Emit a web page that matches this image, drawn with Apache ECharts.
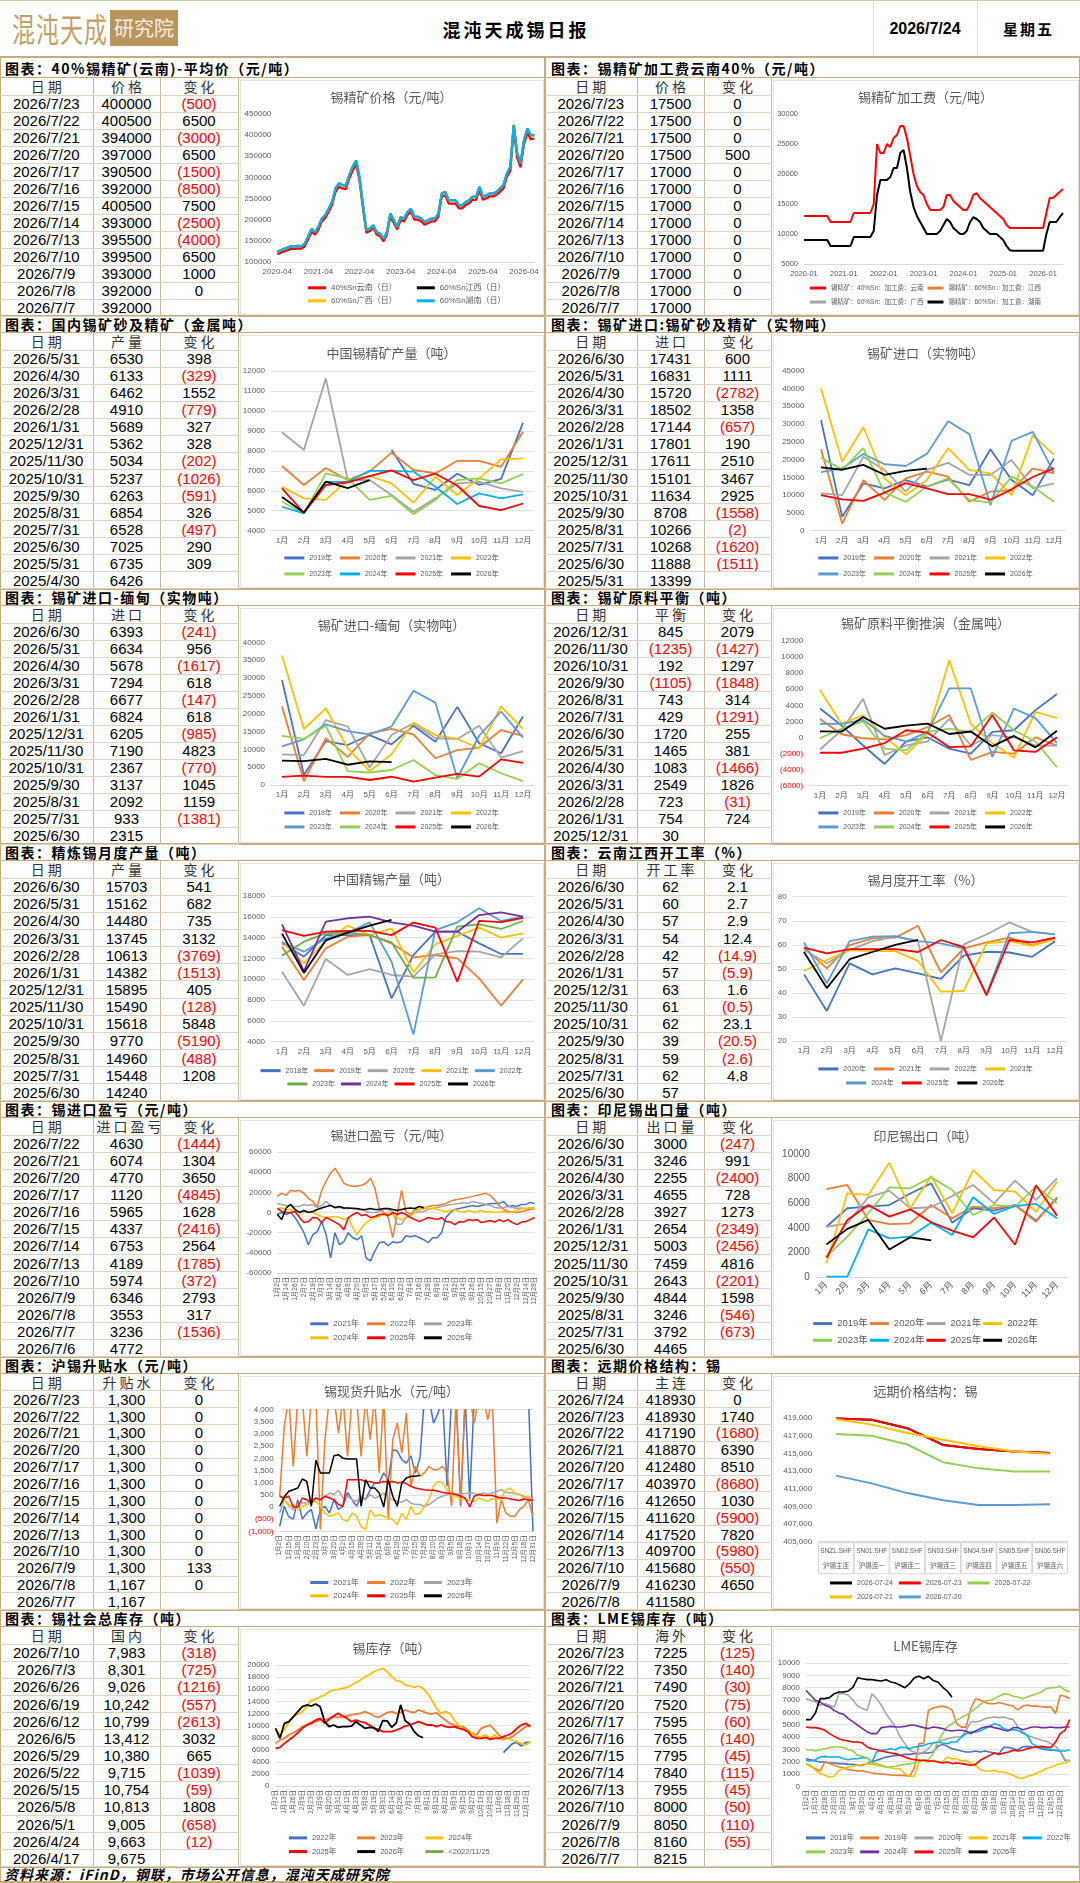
<!DOCTYPE html>
<html lang="zh-CN">
<head>
<meta charset="utf-8">
<title>混沌天成锡日报</title>
<script src="https://cdn.jsdelivr.net/npm/echarts@6.0.0/dist/echarts.min.js"></script>
<style>
html, body { margin: 0; padding: 0; background: #fff; }
body { font-family: "Liberation Sans", "Noto Sans CJK SC", sans-serif; }
#page { position: relative; width: 1080px; height: 1883px; overflow: hidden; background: #fff; }
table.t { position: absolute; border-collapse: collapse; table-layout: fixed; }
table.t td { border-right: 1px solid #cdb995; border-bottom: 1px solid #ddd3c1; text-align: center; padding: 0;
  font-size: 15px; color: #000; white-space: nowrap; overflow: hidden; line-height: 1; }
table.t tr.h td { font-family: "Noto Sans CJK SC", sans-serif; font-size: 14px; letter-spacing: 3px; text-indent: 3px; color: #333; }
table.t td.neg { color: #ff0000; }
</style>
</head>
<body>
<div id="page"></div>
<script>
// ---------- tables ----------
var d1 = ['2026/7/23','2026/7/22','2026/7/21','2026/7/20','2026/7/17','2026/7/16','2026/7/15','2026/7/14','2026/7/13','2026/7/10','2026/7/9','2026/7/8','2026/7/7'];
var t1Price = [400000,400500,394000,397000,390500,392000,400500,393000,395500,399500,393000,392000,392000];
var t1Chg = [-500,6500,-3000,6500,-1500,-8500,7500,-2500,-4000,6500,1000,0,null];
var t1FeePrice = [17500,17500,17500,17500,17000,17000,17000,17000,17000,17000,17000,17000,17000];
var t1FeeChg = [0,0,0,500,0,0,0,0,0,0,0,0,null];

var d2 = ['2026/5/31','2026/4/30','2026/3/31','2026/2/28','2026/1/31','2025/12/31','2025/11/30','2025/10/31','2025/9/30','2025/8/31','2025/7/31','2025/6/30','2025/5/31','2025/4/30'];
var t2Prod = [6530,6133,6462,4910,5689,5362,5034,5237,6263,6854,6528,7025,6735,6426];
var t2ProdChg = [398,-329,1552,-779,327,328,-202,-1026,-591,326,-497,290,309,null];
var d2r = ['2026/6/30','2026/5/31','2026/4/30','2026/3/31','2026/2/28','2026/1/31','2025/12/31','2025/11/30','2025/10/31','2025/9/30','2025/8/31','2025/7/31','2025/6/30','2025/5/31'];
var t2Imp = [17431,16831,15720,18502,17144,17801,17611,15101,11634,8708,10266,10268,11888,13399];
var t2ImpChg = [600,1111,-2782,1358,-657,190,2510,3467,2925,-1558,-2,-1620,-1511,null];

var d3 = ['2026/6/30','2026/5/31','2026/4/30','2026/3/31','2026/2/28','2026/1/31','2025/12/31','2025/11/30','2025/10/31','2025/9/30','2025/8/31','2025/7/31','2025/6/30'];
var t3Mm = [6393,6634,5678,7294,6677,6824,6205,7190,2367,3137,2092,933,2315];
var t3MmChg = [-241,956,-1617,618,-147,618,-985,4823,-770,1045,1159,-1381,null];
var d3r = ['2026/12/31','2026/11/30','2026/10/31','2026/9/30','2026/8/31','2026/7/31','2026/6/30','2026/5/31','2026/4/30','2026/3/31','2026/2/28','2026/1/31','2025/12/31'];
var t3Bal = [845,-1235,192,-1105,743,429,1720,1465,1083,2549,723,754,30];
var t3BalChg = [2079,-1427,1297,-1848,314,-1291,255,381,-1466,1826,-31,724,null];

var t4Ref = [15703,15162,14480,13745,10613,14382,15895,15490,15618,9770,14960,15448,14240];
var t4RefChg = [541,682,735,3132,-3769,-1513,405,-128,5848,-5190,-488,1208,null];
var t4Op = [62,60,57,54,42,57,63,61,62,39,59,62,57];
var t4OpChg = [2.1,2.7,2.9,12.4,-14.9,-5.9,1.6,-0.5,23.1,-20.5,-2.6,4.8,null];

var d5 = ['2026/7/22','2026/7/21','2026/7/20','2026/7/17','2026/7/16','2026/7/15','2026/7/14','2026/7/13','2026/7/10','2026/7/9','2026/7/8','2026/7/7','2026/7/6'];
var t5Prof = [4630,6074,4770,1120,5965,4337,6753,4189,5974,6346,3553,3236,4772];
var t5ProfChg = [-1444,1304,3650,-4845,1628,-2416,2564,-1785,-372,2793,317,-1536,null];
var t5Id = [3000,3246,2255,4655,3927,2654,5003,7459,2643,4844,3246,3792,4465];
var t5IdChg = [-247,991,-2400,728,1273,-2349,-2456,4816,-2201,1598,-546,-673,null];

var t6Prem = [1300,1300,1300,1300,1300,1300,1300,1300,1300,1300,1300,1167,1167];
var t6PremChg = [0,0,0,0,0,0,0,0,0,0,133,0,null];
var d6r = ['2026/7/24','2026/7/23','2026/7/22','2026/7/21','2026/7/20','2026/7/17','2026/7/16','2026/7/15','2026/7/14','2026/7/13','2026/7/10','2026/7/9','2026/7/8'];
var t6Main = [418930,418930,417190,418870,412480,403970,412650,411620,417520,409700,415680,416230,411580];
var t6MainChg = [0,1740,-1680,6390,8510,-8680,1030,-5900,7820,-5980,-550,4650,null];

var d7 = ['2026/7/10','2026/7/3','2026/6/26','2026/6/19','2026/6/12','2026/6/5','2026/5/29','2026/5/22','2026/5/15','2026/5/8','2026/5/1','2026/4/24','2026/4/17'];
var t7Inv = [7983,8301,9026,10242,10799,13412,10380,9715,10754,10813,9005,9663,9675];
var t7InvChg = [-318,-725,-1216,-557,-2613,3032,665,-1039,-59,1808,-658,-12,null];
var t7Lme = [7225,7350,7490,7520,7595,7655,7795,7840,7955,8000,8050,8160,8215];
var t7LmeChg = [-125,-140,-30,-75,-60,-140,-45,-115,-45,-50,-110,-55,null];

// ---------- chart data ----------
var monthsCn = ['1月','2月','3月','4月','5月','6月','7月','8月','9月','10月','11月','12月'];

var ore60 = [124000,128000,131000,134000,137000,137000,138000,137000,143000,
  160000,178000,171000,183000,203000,211000,226000,242000,274000,286000,282000,280000,
  305000,325000,340000,300000,234000,175000,179000,187000,171000,167000,155000,171000,
  214000,199000,183000,206000,203000,218000,226000,207000,207000,203000,195000,199000,
  203000,203000,214000,262000,266000,246000,246000,246000,234000,234000,242000,246000,
  254000,254000,278000,254000,258000,262000,262000,266000,274000,282000,309000,325000,
  424000,357000,333000,388000,416000,400000,400000];
var ore40 = [118000,122000,125000,128000,131000,131000,132000,131000,137000,
  153000,171000,165000,176000,196000,204000,219000,235000,266000,278000,274000,272000,
  297000,316000,331000,292000,227000,169000,173000,181000,165000,161000,149000,165000,
  207000,192000,177000,199000,196000,211000,219000,200000,200000,196000,188000,192000,
  196000,196000,207000,254000,258000,238000,238000,238000,227000,227000,235000,239000,
  247000,247000,270000,247000,251000,255000,255000,259000,266000,274000,301000,316000,
  414000,347000,324000,378000,405000,390000,392000];

var fee40 = [13000,13000,13000,13000,13000,13000,13000,13000,12000,12000,12000,12000,12000,12000,12000,
  13500,13500,13500,13500,13500,13500,
  15000,25000,23500,23500,25000,24500,26000,26500,28000,28000,
  26000,23000,20000,18000,17000,16500,15000,14000,14000,14000,
  14000,14500,16500,16500,15500,15000,14500,14000,14000,15000,
  16500,16800,16000,15500,15000,14500,14000,13500,13000,12500,
  11500,11000,11000,11000,11000,11000,11000,11000,11000,11000,11000,11000,
  13500,16000,16000,16500,17000,17500];
var fee60 = [9000,9000,9000,9000,9000,9000,9000,9000,8000,8000,8000,8000,8000,8000,8000,
  9500,9500,9500,9500,9500,9500,
  10500,16500,19000,19000,19000,19500,21000,21000,23500,24000,
  21000,17000,14500,13000,12000,11000,10000,10000,10000,10000,
  10500,11500,12500,12000,11000,10500,10000,10000,10500,12000,
  12800,12500,12000,11000,10500,10000,10000,10000,9500,9000,
  8000,7300,7200,7200,7200,7200,7200,7200,7200,7200,7200,7200,
  10000,12000,12000,12000,12800,13500];

var dom2019 = [null,null,null,null,null,8050,6350,6050,6850,6300,6600,9400];
var dom2020 = [7240,6290,7140,6540,6960,7910,7040,6870,7500,7500,7200,8960];
var dom2021 = [8930,8040,11630,6540,6540,5790,4950,5620,6370,6450,6120,5950];
var dom2022 = [6200,5620,5540,6540,6740,6370,5400,6700,5790,6620,7570,7620];
var dom2023 = [5450,4870,6870,6620,5540,5740,4830,5540,6540,6620,6370,6840];
var dom2024 = [5200,4870,6450,6450,7000,7000,6960,6200,5340,5870,5620,5820];
var dom2025 = [6120,4900,6290,6426,6735,7025,6528,6854,6263,5237,5034,5362];
var dom2026 = [5689,4910,6462,6133,6530];

var imp2019 = [31100,3900,13300,11900,14250,12400,14400,12800,22900,14250,10000,20300];
var imp2020 = [22900,2000,14250,8600,14700,16600,15200,8150,11000,11400,17500,16100];
var imp2021 = [10500,10000,20800,17100,11000,17100,19100,15700,15700,19900,11900,13300];
var imp2022 = [40000,19400,29100,14700,10000,14250,23200,17100,16100,10000,26900,21300];
var imp2023 = [16500,17500,21600,18700,18200,21600,30800,27200,7200,25300,27800,16300];
var imp2024 = [20600,17100,23200,10700,8150,12400,14700,8600,7900,15200,12400,8150];
var imp2025 = [10000,8800,8400,10700,13399,11888,10268,10266,8708,11634,15101,17611];
var imp2026 = [17801,17144,18502,15720,16831,17431];

var mm2019 = [29400,2800,12300,11200,14000,11400,16600,12100,21900,11700,8900,19200];
var mm2020 = [22000,1100,13100,7900,14500,15700,14200,7500,9800,10500,15400,13800];
var mm2021 = [8600,8400,18200,16400,4900,14000,17300,13100,12900,16600,7700,9500];
var mm2022 = [36300,15700,21500,10300,3900,8600,17500,14000,12900,10300,22000,15700];
var mm2023 = [10800,12800,17000,15100,14200,16400,26400,23100,1900,13800,20600,13300];
var mm2024 = [13800,12900,16600,3900,3500,4200,7000,2800,1700,6100,3300,1100];
var mm2025 = [2300,2600,2300,2300,1400,2315,933,2092,3137,2367,7190,6205];
var mm2026 = [6824,6677,7294,5678,6634,6393];

var bal2019 = [3600,1500,-1000,-3300,-500,0,-1400,-2000,700,900,3400,5400];
var bal2020 = [2300,400,-100,-250,300,1300,2800,-2800,-1800,-2000,0,-1000];
var bal2021 = [-1500,900,4800,-2200,-1000,-500,2300,-1000,300,0,-1000,-1000];
var bal2022 = [5900,1700,2800,100,-2100,500,9600,1700,-700,-2500,3200,2400];
var bal2023 = [1700,1700,2200,200,-500,700,6100,6100,-2400,3600,2400,-700];
var bal2024 = [-100,1100,2000,-1400,-1600,700,1100,700,3100,900,-500,-3700];
var bal2025 = [-1900,-1900,-1400,-700,900,600,-1200,-1100,2800,-1600,-1800,30];
var bal2026 = [754,723,2549,1083,1465,1720,429,743,-1105,192,-1235,845];

var ref2018 = [13450,12170,14250,14250,14250,8160,12330,14570,14570,13450,12430,12430];
var ref2019 = [13130,9930,12970,14090,14250,13450,12100,12330,12010,10090,7460,9990];
var ref2020 = [10730,7460,11950,10410,10980,10410,10250,12390,12710,12650,12100,13930];
var ref2021 = [13610,11530,13680,15150,14250,14890,10660,13360,14160,14960,14000,14410];
var ref2022 = [13550,12650,13930,14470,15470,11690,4700,14730,15470,16820,15600,16010];
var ref2023 = [12270,13610,14410,14510,14250,13550,10150,10180,15050,15280,14830,15600];
var ref2024 = [15280,10790,15540,15860,16010,15470,15150,14570,14570,16170,16430,16010];
var ref2025 = [14730,14160,14570,14640,14640,14240,15448,14960,9770,15618,15490,15895];
var ref2026 = [14382,10613,13745,14480,15162,15703];

var op2020 = [47.7,32.5,52.3,47.7,50.2,48.1,45.8,55.5,57.1,56.8,55,61.5];
var op2021 = [58.8,50.2,59.9,62.7,63,67.9,48.5,58.5,61,63,59.9,62.7];
var op2022 = [57.8,52.3,57.8,61.5,63.4,61.3,20,60.2,64.3,69.3,65.4,64.3];
var op2023 = [49.1,53.7,57.8,57.4,57.4,53.3,40.5,40.8,60.6,61.5,59.6,62.4];
var op2024 = [61,44,61.5,63.4,63.6,61.5,60.6,58.5,39.4,64.8,65.4,64.3];
var op2025 = [58.8,56.4,58.2,58.2,58.2,57,62,59,39,62,61,63];
var op2026 = [57,42,54,57,60,62];

var profDays = ['1月2日','1月8日','1月14日','1月20日','1月26日','2月1日','2月7日','2月13日','2月19日','2月25日',
  '3月3日','3月8日','3月14日','3月20日','3月26日','4月1日','4月8日','4月14日','4月20日','4月27日',
  '5月5日','5月11日','5月17日','5月23日','5月29日','6月4日','6月10日','6月16日','6月22日','6月28日',
  '7月4日','7月10日','7月16日','7月22日','7月28日','8月3日','8月9日','8月15日','8月21日','8月27日',
  '9月2日','9月8日','9月14日','9月20日','9月26日','10月9日','10月15日','10月21日','10月27日',
  '11月2日','11月8日','11月14日','11月20日','11月26日','12月2日','12月8日','12月14日','12月21日','12月28日'];
var prof2021 = [-2000,0,-2000,0,-5000,-12000,-20000,-32000,-22000,-19000,
  -9000,-22000,-45000,-20000,-32000,-29000,-20000,-25000,-27000,-23000,
  -45000,-48000,-38000,-30000,-29000,-33000,-29000,-30000,-29000,-23000,
  -24000,-23000,-25000,-27000,-30000,-25000,-25000,-20000,-5000,0,
  3000,4000,5000,6000,7000,6000,7000,8000,9000,9000,
  9000,11000,6000,7000,6000,8000,8000,10000,9000];
var prof2022 = [16000,19000,17000,22000,21000,22000,19000,14000,11000,6000,
  22000,31000,39000,44000,37000,29000,27000,26000,26000,27000,
  29000,34000,24000,4000,0,-5000,-25000,-2000,22000,1000,
  -2000,3000,3000,4000,6000,7000,7000,8000,9000,11000,
  12500,13500,14000,15000,16000,17000,18000,19000,17000,12500,
  7000,3000,1000,500,0,1000,2000,3000,4000];
var prof2023 = [9000,8000,7000,7000,6000,6000,8000,7000,8000,5000,
  7000,11000,7000,4500,5000,4000,4000,4500,3000,3000,
  1000,0,0,1000,3000,3000,500,-12000,-11500,-5000,
  -2000,0,500,1000,3000,4000,5000,6000,7000,8000,
  8500,9000,10000,9000,11000,10000,9000,8000,7000,5000,
  4500,5000,6000,5000,4000,4500,4000,4500,5000];
var prof2024 = [4000,4500,3000,3000,1000,0,1000,500,0,-2000,
  -4000,-5000,-4500,-4000,-5000,-7000,-5000,-15000,-22000,-15000,
  -10000,-7000,-5000,-4000,-2000,0,-2000,-5000,-7000,-5000,
  -3000,0,3000,6000,3000,4500,3000,2000,1000,2000,
  3000,1000,500,2000,1000,500,2000,500,1000,0,
  500,1000,0,500,2000,4000,4000,4500,4000];
var prof2025 = [4000,1000,0,0,1000,-5000,-10000,-9000,-5000,-5500,
  -10000,-5000,-7000,-9500,-12000,-17000,-5000,-2000,0,-3000,
  -2000,-5000,-4000,-2000,-1500,-3000,0,-2000,0,-2000,
  -5000,-7000,-9000,-7000,-5000,-6000,-7000,-5000,-9000,-9500,
  -12000,-9000,-9500,-7000,-8000,-7000,-10000,-9000,-8000,-9500,
  -7000,-9000,-7000,-10000,-12000,-9500,-9000,-7000,-5000];
var prof2026 = [-2000,-7000,4500,8000,3000,0,2000,0,1000,3000,
  4500,6000,7000,5000,6000,4500,4500,4000,4000,3000,
  3000,4000,3000,3000,4000,4000,3000,2000,3000,4000,
  4500,4000,5965,4630];

var id2019 = [4100,5600,5730,5860,6800,7620,4430,5600,5400,5860,4600,6400];
var id2020 = [7160,7490,4650,4320,4380,5860,4780,5730,5600,5860,4510,6500];
var id2021 = [4100,4380,6490,7030,5600,5680,6600,7490,6000,7840,6270,8030];
var id2022 = [1140,6810,6680,9300,5600,8220,5190,8700,7080,6950,5320,7760];
var id2023 = [1680,3300,5190,7300,7220,8110,7080,5050,5860,5730,7350,6000];
var id2024 = [50,50,3890,3160,3300,4430,3430,6490,5140,5780,5950,4780];
var id2025 = [1590,4650,5860,4920,5510,4465,3792,3246,4844,2643,7459,5003];
var id2026 = [2654,3927,4655,2255,3246,3000];

var calDays = ['1月2日','1月8日','1月15日','1月21日','1月28日','2月3日','2月10日','2月16日','2月23日','3月1日',
  '3月7日','3月13日','3月20日','3月26日','4月2日','4月8日','4月15日','4月21日','4月28日','5月4日',
  '5月11日','5月17日','5月24日','5月30日','6月6日','6月12日','6月19日','6月25日','7月2日','7月8日',
  '7月15日','7月21日','7月28日','8月3日','8月10日','8月16日','8月23日','8月29日','9月5日','9月11日',
  '9月18日','9月24日','10月1日','10月7日','10月14日','10月20日','10月27日','11月2日','11月9日','11月15日',
  '11月22日','11月28日','12月5日','12月11日','12月18日','12月24日','12月31日'];
var prem2021 = [-800,30,-400,-500,300,-500,-250,-100,-900,-100,
  30,-250,300,-100,30,600,300,30,400,300,
  700,1000,1000,1400,1100,2350,2300,1950,1800,2100,
  1400,2000,4500,4500,3450,3850,4500,850,4500,4500,
  30,4500,300,4500,4500,4500,4500,4500,4500,4500,
  4500,4500,4500,4500,4500,4500,-1000];
var prem2022 = [440,3300,4500,1670,4500,4500,2080,4500,4500,-930,
  2770,4500,4500,3040,4500,2080,4500,4500,2080,4500,
  2770,4500,1400,4500,-520,2770,3450,2220,3860,850,
  1670,1260,1400,1670,1530,1530,1670,1400,30,4500,
  160,4500,4500,3450,4500,4500,3590,4500,-660,300,
  -250,-380,-380,-110,30,300,-380];
var prem2023 = [-250,300,100,-110,30,160,160,300,370,300,
  440,575,510,690,370,440,300,230,440,300,
  510,370,440,575,370,300,230,190,300,160,
  100,100,30,100,230,370,440,510,550,510,
  550,550,575,550,510,575,510,575,645,710,
  600,575,550,510,440,370,300];
var prem2024 = [440,300,30,100,-110,30,100,160,230,30,
  -250,-380,-320,-250,-520,-590,-250,-380,-800,-930,
  -110,-380,-320,-380,-450,-520,-730,-250,-520,30,
  -320,-250,30,300,850,1050,990,710,510,440,
  330,300,270,230,370,300,230,330,300,370,
  690,780,575,510,370,440,230];
var prem2025 = [440,370,440,0,0,370,300,160,370,300,
  440,370,300,100,30,1120,1120,1120,1120,1050,
  1050,990,990,1050,1020,1050,990,1020,960,850,
  780,740,710,690,690,645,600,575,550,510,
  440,370,0,440,510,470,470,470,410,370,
  370,330,300,270,330,300,270];
var prem2026 = [30,410,645,710,780,1150,1050,30,1920,1400,
  1400,1400,2110,2150,2000,1970,1970,1970,30,1120,
  780,780,575,0,1120,440,30,990,1190,1260,
  1260,1300];

var fwdCodes = ['SNZL.SHF','SN01.SHF','SN02.SHF','SN03.SHF','SN04.SHF','SN05.SHF','SN06.SHF'];
var fwdNames = ['沪锡主连','沪锡连一','沪锡连二','沪锡连三','沪锡连四','沪锡连五','沪锡连六'];
var fwd0724 = [418930,418800,417850,415950,415480,415220,415030];
var fwd0723 = [418930,418800,417850,415950,415480,415220,415030];
var fwd0722 = [417190,417000,416000,414000,413300,412950,412950];
var fwd0721 = [418870,418250,417300,416550,415800,415200,414950];
var fwd0720 = [412480,411600,410500,409700,409150,409150,409250];

var invDays = ['1月2日','1月8日','1月13日','1月19日','1月26日','2月2日','2月9日','2月16日','2月23日','3月2日',
  '3月9日','3月14日','3月20日','3月25日','3月31日','4月6日','4月12日','4月17日','4月23日','4月30日',
  '5月8日','5月13日','5月19日','5月25日','5月31日','6月7日','6月14日','6月20日','6月26日','7月1日',
  '7月7日','7月13日','7月19日','7月25日','8月1日','8月6日','8月12日','8月17日','8月22日','8月28日',
  '9月3日','9月9日','9月15日','9月21日','9月27日','10月8日','10月13日','10月19日','10月25日','10月31日',
  '11月6日','11月12日','11月18日','11月24日','11月29日','12月5日','12月12日','12月23日'];
var inv2022 = [[51,5500],[52,6300],[53,7000],[54,7200],[55,6600],[56,7200],[57,7200]];
var inv2023 = [7050,7600,7880,8430,8800,9260,9800,10080,10250,10630,
  10900,10900,11180,11460,11350,11460,11570,11740,11900,12010,
  12290,12010,11570,11350,11740,12120,12290,12010,12120,12560,
  12290,12120,12560,12290,12010,11900,12120,11460,10900,10360,
  10080,9800,9800,9260,8700,8430,9530,9800,10080,9260,
  8430,7880,7880,8150,8700,9260,9800,10080];
var inv2024 = [9530,8430,9260,10630,11460,11900,12290,13110,14210,14320,
  14760,15040,15590,15870,15980,16140,16310,16690,17080,17520,
  18070,18350,18900,19170,19450,18900,18070,17410,17250,16690,
  16530,16310,16530,16140,15320,14210,12840,12010,12290,12010,
  10900,10080,9260,9260,8700,8150,8150,8430,7880,8430,
  7880,7600,7880,7600,7330,7050,6780,7330];
var inv2025 = [6230,6390,7050,7600,8150,8800,9530,10080,10470,10900,
  11180,10360,11020,11570,12010,11570,11180,10630,10900,10630,
  10470,10080,9530,9360,8980,8980,8980,9260,9530,9910,
  10080,10360,10630,10360,10080,10080,9800,10080,9800,9690,
  9800,9530,9360,8980,8150,7880,7880,8040,7710,7880,
  7880,8150,8430,8800,9530,10080,10360,9800];
var inv2026 = [9530,7880,10360,10630,11460,12290,13110,13390,13220,13550,
  13110,10630,9800,10080,9690,9800,9800,9910,10630,10080,
  9530,9675,9663,9005,10813,10754,9715,10380,13412,10799,
  10242,9026,8301,7983];

var lme2018 = [2240,2160,2050,1970,1970,1890,1890,1840,1840,1780,
  1780,1700,1700,1840,1970,2110,2240,2380,2430,2510,
  2510,2590,2590,2650,2650,2700,2700,2780,3240,3400,
  3240,3050,2970,2860,2780,2780,2860,2780,2860,2780,
  2700,2650,3160,3160,3050,2970,3190,3240,3190,3160,
  3050,2970,2920,2920,2860,2110,2050];
var lme2019 = [1840,1620,1430,1240,1970,1840,1700,1570,1500,1350,
  1300,1250,1250,1160,1080,1030,1000,970,920,900,
  890,870,810,1500,3460,3500,6160,6350,6450,6500,
  6400,6200,5080,4800,4800,6300,7100,7000,6800,6700,
  6700,6800,6700,6600,6500,6200,6500,6600,6500,6500,
  6450,6400,6450,5900,7380,7300,7100];
var lme2020 = [7110,6970,6840,6570,6700,6570,6430,7510,7510,7380,
  6970,6490,6300,6160,7510,7110,6570,5890,5350,4810,
  4000,3460,2920,2780,2650,2780,3050,3510,3590,3730,
  3860,3950,4000,4000,4540,5220,5220,5300,5490,5570,
  5620,5570,5620,5490,5410,4810,4410,4140,4000,3860,
  3730,3660,3460,3240,2860,2110,2110];
var lme2021 = [1840,1700,1300,1030,890,760,810,1300,1430,1570,
  1620,1700,1780,1840,1780,1700,1620,1570,1510,1430,
  1400,1030,810,810,1970,2050,1970,2110,1970,1970,
  2380,2240,2240,2050,2110,1890,1700,1350,1240,1240,
  1300,1160,1160,1030,890,700,620,810,890,1080,
  1240,1430,1570,1700,1840,1890,2110];
var lme2022 = [2110,2050,2160,2380,2430,2380,2380,2380,2240,2160,
  2240,2240,2320,2320,1970,2780,2920,2970,3050,2970,
  3160,3160,3050,3190,3240,3320,3460,3510,3590,3510,
  3460,3590,3590,4000,4270,4410,4410,4490,4680,4860,
  5080,4950,4680,4540,4590,4540,4320,4140,3460,3240,
  3140,3050,2970,2920,2860,2860,2970];
var lme2023 = [2970,2970,2860,2970,3050,3140,3190,3190,3140,2970,
  2860,2510,2430,2320,1890,1840,1700,1570,1570,1620,
  1700,1780,1840,1890,1970,2110,2160,2650,3590,4270,
  4810,5080,5350,5570,5760,6030,6300,6650,6920,6970,
  7110,7300,7510,7460,7300,7240,7110,7240,7380,7510,
  7650,7920,8000,8000,8110,7780,7650];
var lme2024 = [7780,7380,6970,6840,6570,6430,6160,5950,5840,5490,
  5220,4950,4680,4410,4270,4270,4760,4810,4860,4810,
  4810,4860,4950,4950,4860,4760,4680,4810,4760,4680,
  4540,4490,4540,4540,4490,4270,4490,4680,4810,4860,
  4760,4680,4540,4490,4760,4760,4590,4680,4810,4810,
  4760,4760,4810,4760,4760,4810,4810];
var lme2025 = [4810,4760,4760,4680,4540,4270,4050,3860,3730,3680,
  3590,3590,3510,3190,3050,2970,2860,2780,2700,2650,
  2510,2380,2240,2160,2110,2110,2050,2050,1970,1890,
  1970,1840,1890,1840,1780,1700,1780,2110,2320,2510,
  2700,2590,2700,2780,2920,2860,2920,3050,3140,3190,
  3240,3190,3140,3590,4270,4540,5410];
var lme2026 = [5410,5410,5950,7110,7110,7190,7510,7650,7650,7730,
  8050,8810,8730,8650,8650,8590,8540,8650,8460,8380,
  8190,8000,8320,8810,8920,8730,8920,8590,8460,8050,
  7730,7225];

// ---------- helpers ----------
var page = document.getElementById('page');
var GRAY = '#595959';
var TAN = '#c8ab7c';
var FONT = '"Liberation Sans", "Noto Sans CJK SC", sans-serif';
var CJK = '"Noto Sans CJK SC", sans-serif';
var C = { blue: '#4472C4', orange: '#ED7D31', gray: '#A5A5A5', yellow: '#FFC000', lblue: '#5B9BD5',
  green: '#70AD47', lgreen: '#92D050', red: '#FF0000', black: '#000000', cyan: '#00B0F0', purple: '#7030A0' };

function div(css, html) {
  var d = document.createElement('div');
  d.style.cssText = 'position:absolute;' + css;
  if (html != null) d.innerHTML = html;
  page.appendChild(d);
  return d;
}

function months(y, m, y1, m1) {
  var out = [];
  while (y < y1 || (y === y1 && m <= m1)) {
    out.push(y + '-' + (m < 10 ? '0' + m : m));
    m++;
    if (m > 12) { m = 1; y++; }
  }
  return out;
}

function fmt(v, o) {
  if (v === null || v === undefined) return '';
  o = o || {};
  var a = Math.abs(v);
  var s = o.dec ? a.toFixed(1) : String(a);
  if (o.comma) s = s.replace(/\B(?=(\d{3})+(?!\d))/g, ',');
  return v < 0 ? '(' + s + ')' : s;
}

function comma(v) { return String(Math.abs(v)).replace(/\B(?=(\d{3})+(?!\d))/g, ','); }

var secTop = [58, 316, 589, 844, 1101, 1357, 1610];
var footTop = 1867;
function tableTop(i) { return secTop[i] + (i === 0 ? 20 : 17); }
function secEnd(i) { return i < 6 ? secTop[i + 1] : footTop; }
function boxOf(i, side) {
  var t = tableTop(i), h = secEnd(i) - t;
  return side === 0 ? [238, t, 307, h] : [771, t, 309, h];
}

function table(i, side, head, dates, vals, chgs, vo, co) {
  var t = tableTop(i), h = secEnd(i) - t;
  var x = side === 0 ? 0 : 545;
  var w = side === 0 ? [93, 67, 78] : [92, 67, 67];
  var n = dates.length + 1;
  var rh = h / n;
  var html = '<colgroup><col style="width:' + w[0] + 'px"><col style="width:' + w[1] + 'px"><col style="width:' + w[2] + 'px"></colgroup>';
  html += '<tr class="h" style="height:' + rh + 'px"><td>' + head[0] + '</td><td>' + head[1] + '</td><td>' + head[2] + '</td></tr>';
  for (var k = 0; k < dates.length; k++) {
    var v = vals[k], c = chgs[k];
    html += '<tr style="height:' + rh + 'px"><td>' + dates[k] + '</td>' +
      '<td' + (v < 0 ? ' class="neg"' : '') + '>' + fmt(v, vo) + '</td>' +
      '<td' + (c !== null && c < 0 ? ' class="neg"' : '') + '>' + fmt(c, co) + '</td></tr>';
  }
  var tb = document.createElement('table');
  tb.className = 't';
  tb.style.left = x + 'px';
  tb.style.top = t + 'px';
  tb.style.width = (w[0] + w[1] + w[2]) + 'px';
  tb.style.height = h + 'px';
  tb.innerHTML = html;
  page.appendChild(tb);
}

function lineChart(box, c) {
  div('left:' + (box[0] + 2) + 'px;top:' + (box[1] + 2) + 'px;width:' + (box[2] - 5) + 'px;height:' + (box[3] - 5) + 'px;border:1px solid #e4e4e4');
  var el = div('left:' + box[0] + 'px;top:' + box[1] + 'px;width:' + box[2] + 'px;height:' + box[3] + 'px');
  var n = c.cats.length;
  var half = c.bg ? (c.x2 - c.x1) / (n - 1) / 2 : 0;
  var lf = c.lf || 7.5;
  var legend = c.legend.map(function (row, k) {
    return {
      data: row, top: c.legY[k] - box[1] - lf * 0.65,
      left: c.legX != null ? c.legX - box[0] : 'center',
      icon: 'rect', itemWidth: c.iw || 18, itemHeight: 3, itemGap: c.gap || 6, padding: 0,
      textStyle: { fontSize: lf, color: GRAY, fontFamily: FONT }
    };
  });
  var chart = echarts.init(el, null, { renderer: 'canvas' });
  chart.setOption({
    animation: false,
    textStyle: { fontFamily: FONT },
    title: { text: c.title, left: 'center', top: c.titleY - box[1] - 8,
      textStyle: { fontSize: 13, fontWeight: 'normal', color: GRAY, fontFamily: CJK } },
    grid: { left: c.x1 - half - box[0], right: box[0] + box[2] - c.x2 - half,
      top: c.yTop - box[1], bottom: box[1] + box[3] - c.yBot, containLabel: false, outerBoundsMode: 'none' },
    legend: legend,
    xAxis: {
      type: 'category', data: c.cats, boundaryGap: !!c.bg,
      axisLine: { onZero: false, lineStyle: { color: '#d9d9d9' } },
      axisTick: { show: false },
      axisLabel: Object.assign({ fontSize: 8, color: GRAY, margin: 6, interval: 0, fontFamily: FONT }, c.xl || {}),
      splitLine: { show: false }
    },
    yAxis: {
      type: 'value', min: c.y[0], max: c.y[1], interval: c.y[2],
      axisLine: { show: false }, axisTick: { show: false },
      axisLabel: Object.assign({ fontSize: 8, color: GRAY, margin: 6, fontFamily: FONT,
        formatter: function (v) { return String(v); } }, c.yl || {}),
      splitLine: { show: !!c.split, lineStyle: { color: '#e2e2e2', width: 1 } }
    },
    series: c.series.map(function (s) {
      return { type: 'line', name: s[0], data: s[2], symbol: 'none', showSymbol: false, clip: true,
        lineStyle: { color: s[1], width: c.lw || 1.8 }, itemStyle: { color: s[1] }, emphasis: { disabled: true } };
    })
  });
}

// ---------- frame ----------
div('left:0;top:0;width:1080px;height:0;border-top:1px solid #d9c6a3');
div('left:0;top:56px;width:1080px;height:0;border-top:2px solid ' + TAN);
div('left:12px;top:7px;width:98px;font-family:' + CJK + ';font-size:23px;line-height:28px;color:#c4a268;letter-spacing:1px;transform:scaleY(1.45);transform-origin:left top;white-space:nowrap', '混沌天成');
div('left:110px;top:10px;width:68px;height:36px;background:#b9965f;color:#f6eee0;font-family:' + CJK + ';font-size:20px;line-height:36px;text-align:center', '研究院');
div('left:380px;top:17px;width:272px;text-align:center;font-family:' + CJK + ';font-weight:bold;font-size:18px;line-height:24px;letter-spacing:3px', '混沌天成锡日报');
div('left:873px;top:1px;width:0;height:55px;border-left:1px solid #dddddd');
div('left:977px;top:1px;width:0;height:55px;border-left:1px solid #dddddd');
div('left:873px;top:18px;width:104px;text-align:center;font-weight:bold;font-size:16px;line-height:22px', '2026/7/24');
div('left:977px;top:18px;width:103px;text-align:center;font-family:' + CJK + ';font-weight:bold;font-size:15px;line-height:22px;letter-spacing:2px', '星期五');

var titles = [
  ['图表：40%锡精矿(云南)-平均价（元/吨）', '图表：锡精矿加工费云南40%（元/吨）'],
  ['图表：国内锡矿砂及精矿（金属吨）', '图表：锡矿进口:锡矿砂及精矿（实物吨）'],
  ['图表：锡矿进口-缅甸（实物吨）', '图表：锡矿原料平衡（吨）'],
  ['图表：精炼锡月度产量（吨）', '图表：云南江西开工率（%）'],
  ['图表：锡进口盈亏（元/吨）', '图表：印尼锡出口量（吨）'],
  ['图表：沪锡升贴水（元/吨）', '图表：远期价格结构：锡'],
  ['图表：锡社会总库存（吨）', '图表：LME锡库存（吨）']
];
for (var i = 0; i < 7; i++) {
  var tt = secTop[i], th = tableTop(i) - tt;
  if (i > 0) div('left:0;top:' + (tt - 1) + 'px;width:1080px;height:0;border-top:2px solid ' + TAN);
  div('left:0;top:' + (tableTop(i) - 1) + 'px;width:1080px;height:0;border-top:1px solid ' + TAN);
  var ts = 'top:' + tt + 'px;height:' + th + 'px;line-height:' + th + 'px;font-family:' + CJK + ';font-weight:bold;font-size:14px;letter-spacing:1.5px;white-space:nowrap;';
  div('left:5px;' + ts, titles[i][0]);
  div('left:551px;' + ts, titles[i][1]);
}
div('left:0;top:' + (footTop - 1) + 'px;width:1080px;height:0;border-top:2px solid ' + TAN);
div('left:0;top:1881px;width:1080px;height:0;border-top:2px solid ' + TAN);
div('left:0;top:57px;width:0;height:1826px;border-left:1px solid ' + TAN);
div('left:1079px;top:57px;width:0;height:1826px;border-left:1px solid ' + TAN);
div('left:544px;top:57px;width:0;height:' + (footTop - 57) + 'px;border-left:2px solid ' + TAN);
div('left:4px;top:' + footTop + 'px;height:15px;line-height:15px;font-family:' + CJK + ';font-weight:bold;font-style:italic;font-size:14px;letter-spacing:1px;white-space:nowrap',
  '资料来源：iFinD，钢联，市场公开信息，混沌天成研究院');

// ---------- tables ----------
table(0, 0, ['日期', '价格', '变化'], d1, t1Price, t1Chg);
table(0, 1, ['日期', '价格', '变化'], d1, t1FeePrice, t1FeeChg);
table(1, 0, ['日期', '产量', '变化'], d2, t2Prod, t2ProdChg);
table(1, 1, ['日期', '进口', '变化'], d2r, t2Imp, t2ImpChg);
table(2, 0, ['日期', '进口', '变化'], d3, t3Mm, t3MmChg);
table(2, 1, ['日期', '平衡', '变化'], d3r, t3Bal, t3BalChg);
table(3, 0, ['日期', '产量', '变化'], d3, t4Ref, t4RefChg);
table(3, 1, ['日期', '开工率', '变化'], d3, t4Op, t4OpChg, null, { dec: true });
table(4, 0, ['日期', '进口盈亏', '变化'], d5, t5Prof, t5ProfChg);
table(4, 1, ['日期', '出口量', '变化'], d3, t5Id, t5IdChg);
table(5, 0, ['日期', '升贴水', '变化'], d1, t6Prem, t6PremChg, { comma: true });
table(5, 1, ['日期', '主连', '变化'], d6r, t6Main, t6MainChg);
table(6, 0, ['日期', '国内', '变化'], d7, t7Inv, t7InvChg, { comma: true });
table(6, 1, ['日期', '海外', '变化'], d1, t7Lme, t7LmeChg);

// ---------- charts ----------
var negRed = function (v) { return v < 0 ? '#FF0000' : GRAY; };
var yrs8 = [['2019年', '2020年', '2021年', '2022年'], ['2023年', '2024年', '2025年', '2026年']];

lineChart(boxOf(0, 0), {
  title: '锡精矿价格（元/吨）', titleY: 94,
  cats: months(2020, 4, 2026, 7), bg: false, x1: 277.3, x2: 534.3,
  y: [100000, 450000, 50000], yTop: 114, yBot: 262,
  xl: { interval: 11 }, lw: 2.2,
  legend: [['40%Sn云南（日）', '60%Sn江西（日）'], ['60%Sn广西（日）', '60%Sn湖南（日）']],
  legY: [289, 302], legX: 308, gap: 20, lf: 8,
  series: [['40%Sn云南（日）', C.red, ore40], ['60%Sn江西（日）', C.black, ore60],
    ['60%Sn广西（日）', C.yellow, ore60], ['60%Sn湖南（日）', C.cyan, ore60]]
});

var feeNames = ['锡精矿：40%Sn：加工费：云南', '锡精矿：60%Sn：加工费：江西', '锡精矿：60%Sn：加工费：广西', '锡精矿：60%Sn：加工费：湖南'];
lineChart(boxOf(0, 1), {
  title: '锡精矿加工费（元/吨）', titleY: 94,
  cats: months(2020, 1, 2026, 7), bg: false, x1: 804, x2: 1063,
  y: [5000, 30000, 5000], yTop: 114, yBot: 264,
  xl: { interval: 11, fontSize: 7.5 }, yl: { fontSize: 7.5 }, lw: 2,
  legend: [[feeNames[0], feeNames[1]], [feeNames[2], feeNames[3]]],
  legY: [289, 303], lf: 6.5, iw: 16, gap: 4,
  series: [[feeNames[0], C.red, fee40], [feeNames[1], C.orange, []], [feeNames[2], C.gray, []], [feeNames[3], C.black, fee60]]
});

lineChart(boxOf(1, 0), {
  title: '中国锡精矿产量（吨）', titleY: 350,
  cats: monthsCn, bg: true, x1: 282, x2: 523,
  y: [4000, 12000, 1000], yTop: 371, yBot: 530.7, split: true,
  legend: yrs8, legY: [559, 575], lf: 7, iw: 20, gap: 8,
  series: [['2019年', C.blue, dom2019], ['2020年', C.orange, dom2020], ['2021年', C.gray, dom2021], ['2022年', C.yellow, dom2022],
    ['2023年', C.lgreen, dom2023], ['2024年', C.cyan, dom2024], ['2025年', C.red, dom2025], ['2026年', C.black, dom2026]]
});

lineChart(boxOf(1, 1), {
  title: '锡矿进口（实物吨）', titleY: 350,
  cats: monthsCn, bg: true, x1: 821, x2: 1054,
  y: [0, 45000, 5000], yTop: 370.7, yBot: 530.7,
  legend: yrs8, legY: [559, 575], lf: 7, iw: 20, gap: 8,
  series: [['2019年', C.blue, imp2019], ['2020年', C.orange, imp2020], ['2021年', C.gray, imp2021], ['2022年', C.yellow, imp2022],
    ['2023年', C.lblue, imp2023], ['2024年', C.lgreen, imp2024], ['2025年', C.red, imp2025], ['2026年', C.black, imp2026]]
});

lineChart(boxOf(2, 0), {
  title: '锡矿进口-缅甸（实物吨）', titleY: 621.7,
  cats: monthsCn, bg: true, x1: 282, x2: 523,
  y: [0, 40000, 5000], yTop: 642.3, yBot: 785,
  legend: yrs8, legY: [814, 828], lf: 7, iw: 20, gap: 8,
  series: [['2019年', C.blue, mm2019], ['2020年', C.orange, mm2020], ['2021年', C.gray, mm2021], ['2022年', C.yellow, mm2022],
    ['2023年', C.lblue, mm2023], ['2024年', C.lgreen, mm2024], ['2025年', C.red, mm2025], ['2026年', C.black, mm2026]]
});

lineChart(boxOf(2, 1), {
  title: '锡矿原料平衡推演（金属吨）', titleY: 620,
  cats: monthsCn, bg: true, x1: 820, x2: 1057,
  y: [-6000, 12000, 2000], yTop: 641, yBot: 785.7,
  yl: { formatter: function (v) { return fmt(v); }, color: negRed },
  legend: yrs8, legY: [814, 828], lf: 7, iw: 20, gap: 8,
  series: [['2019年', C.blue, bal2019], ['2020年', C.orange, bal2020], ['2021年', C.gray, bal2021], ['2022年', C.yellow, bal2022],
    ['2023年', C.lblue, bal2023], ['2024年', C.lgreen, bal2024], ['2025年', C.red, bal2025], ['2026年', C.black, bal2026]]
});

lineChart(boxOf(3, 0), {
  title: '中国精锡产量（吨）', titleY: 876,
  cats: monthsCn, bg: true, x1: 282, x2: 523,
  y: [4000, 18000, 2000], yTop: 896, yBot: 1041.7, split: true,
  legend: [['2018年', '2019年', '2020年', '2021年', '2022年'], ['2023年', '2024年', '2025年', '2026年']],
  legY: [1071.7, 1085], lf: 7, iw: 20, gap: 6,
  series: [['2018年', C.blue, ref2018], ['2019年', C.orange, ref2019], ['2020年', C.gray, ref2020], ['2021年', C.yellow, ref2021],
    ['2022年', C.lblue, ref2022], ['2023年', C.green, ref2023], ['2024年', C.purple, ref2024], ['2025年', C.red, ref2025], ['2026年', C.black, ref2026]]
});

lineChart(boxOf(3, 1), {
  title: '锡月度开工率（%）', titleY: 876.7,
  cats: monthsCn, bg: true, x1: 804, x2: 1055,
  y: [20, 80, 10], yTop: 896.7, yBot: 1041, split: true,
  legend: [['2020年', '2021年', '2022年', '2023年'], ['2024年', '2025年', '2026年']],
  legY: [1070, 1084], lf: 7, iw: 20, gap: 8,
  series: [['2020年', C.blue, op2020], ['2021年', C.orange, op2021], ['2022年', C.gray, op2022], ['2023年', C.yellow, op2023],
    ['2024年', C.lblue, op2024], ['2025年', C.red, op2025], ['2026年', C.black, op2026]]
});

lineChart(boxOf(4, 0), {
  title: '锡进口盈亏（元/吨）', titleY: 1132,
  cats: profDays, bg: false, x1: 277.3, x2: 534.7,
  y: [-60000, 60000, 20000], yTop: 1152, yBot: 1273, split: true,
  xl: { rotate: 90, interval: 1, fontSize: 6.5, margin: 4 }, lw: 1.5,
  legend: [['2021年', '2022年', '2023年'], ['2024年', '2025年', '2026年']],
  legY: [1325, 1339], lf: 8, iw: 18, gap: 8,
  series: [['2021年', C.blue, prof2021], ['2022年', C.orange, prof2022], ['2023年', C.gray, prof2023],
    ['2024年', C.yellow, prof2024], ['2025年', C.red, prof2025], ['2026年', C.black, prof2026]]
});

lineChart(boxOf(4, 1), {
  title: '印尼锡出口（吨）', titleY: 1132.7,
  cats: monthsCn, bg: true, x1: 826.4, x2: 1057,
  y: [0, 10000, 2000], yTop: 1154, yBot: 1277.3,
  yl: { fontSize: 10 }, xl: { rotate: 45, fontSize: 9, margin: 6 },
  legend: yrs8, legY: [1325, 1341.7], lf: 9.5, iw: 19, gap: 2,
  series: [['2019年', C.blue, id2019], ['2020年', C.orange, id2020], ['2021年', C.gray, id2021], ['2022年', C.yellow, id2022],
    ['2023年', C.lgreen, id2023], ['2024年', C.cyan, id2024], ['2025年', C.red, id2025], ['2026年', C.black, id2026]]
});

lineChart(boxOf(5, 0), {
  title: '锡现货升贴水（元/吨）', titleY: 1388,
  cats: calDays, bg: false, x1: 279.7, x2: 533,
  y: [-1000, 4000, 500], yTop: 1409.7, yBot: 1531.3, split: true,
  yl: { formatter: function (v) { return v < 0 ? '(' + comma(v) + ')' : comma(v); }, color: negRed },
  xl: { rotate: 90, interval: 1, fontSize: 6.5, margin: 4 }, lw: 1.5,
  legend: [['2021年', '2022年', '2023年'], ['2024年', '2025年', '2026年']],
  legY: [1583.7, 1597], lf: 8, iw: 18, gap: 8,
  series: [['2021年', C.blue, prem2021], ['2022年', C.orange, prem2022], ['2023年', C.gray, prem2023],
    ['2024年', C.yellow, prem2024], ['2025年', C.red, prem2025], ['2026年', C.black, prem2026]]
});

lineChart(boxOf(5, 1), {
  title: '远期价格结构：锡', titleY: 1388,
  cats: fwdCodes, bg: true, x1: 836, x2: 1050,
  y: [405000, 419000, 2000], yTop: 1418, yBot: 1541.7,
  yl: { formatter: function (v) { return comma(v); } },
  xl: { formatter: function (v, k) { return v + '\n' + fwdNames[k]; }, fontSize: 6.5, lineHeight: 15, margin: 1,
    width: 35, overflow: 'truncate', borderColor: '#d6d6d6', borderWidth: 1, padding: [1, 0, 0, 0] },
  legend: [['2026-07-24', '2026-07-23', '2026-07-22'], ['2026-07-21', '2026-07-20']],
  legY: [1584, 1598], legX: 830, lf: 7, iw: 22, gap: 6, lw: 2,
  series: [['2026-07-24', C.black, fwd0724], ['2026-07-23', C.red, fwd0723], ['2026-07-22', C.lgreen, fwd0722],
    ['2026-07-21', C.yellow, fwd0721], ['2026-07-20', C.lblue, fwd0720]]
});

lineChart(boxOf(6, 0), {
  title: '锡库存（吨）', titleY: 1645,
  cats: invDays, bg: false, x1: 275.5, x2: 530.3,
  y: [0, 20000, 2000], yTop: 1665, yBot: 1786, split: true,
  xl: { rotate: 90, interval: 1, fontSize: 6.5, margin: 4 }, lw: 1.8,
  legend: [['2022年', '2023年', '2024年'], ['2025年', '2026年', '<2022/11/25']],
  legY: [1839, 1852.7], legX: 289, lf: 7.5, iw: 18, gap: 21,
  series: [['2022年', C.blue, inv2022], ['2023年', C.orange, inv2023], ['2024年', C.yellow, inv2024],
    ['2025年', C.red, inv2025], ['2026年', C.black, inv2026], ['<2022/11/25', C.green, []]]
});

lineChart(boxOf(6, 1), {
  title: 'LME锡库存', titleY: 1643,
  cats: calDays, bg: false, x1: 806, x2: 1069.7,
  y: [0, 10000, 1000], yTop: 1663, yBot: 1786.3, split: true,
  xl: { rotate: 90, interval: function (k) { return k % 2 === 0 && k < 56; }, fontSize: 6.5, margin: 4 }, lw: 1.6,
  legend: [['2018年', '2019年', '2020年', '2021年', '2022年'], ['2023年', '2024年', '2025年', '2026年']],
  legY: [1839, 1853], legX: 806, lf: 7.5, iw: 19, gap: 6,
  series: [['2018年', C.blue, lme2018], ['2019年', C.orange, lme2019], ['2020年', C.gray, lme2020], ['2021年', C.yellow, lme2021],
    ['2022年', C.cyan, lme2022], ['2023年', C.lgreen, lme2023], ['2024年', C.purple, lme2024], ['2025年', C.red, lme2025], ['2026年', C.black, lme2026]]
});
</script>
</body>
</html>
